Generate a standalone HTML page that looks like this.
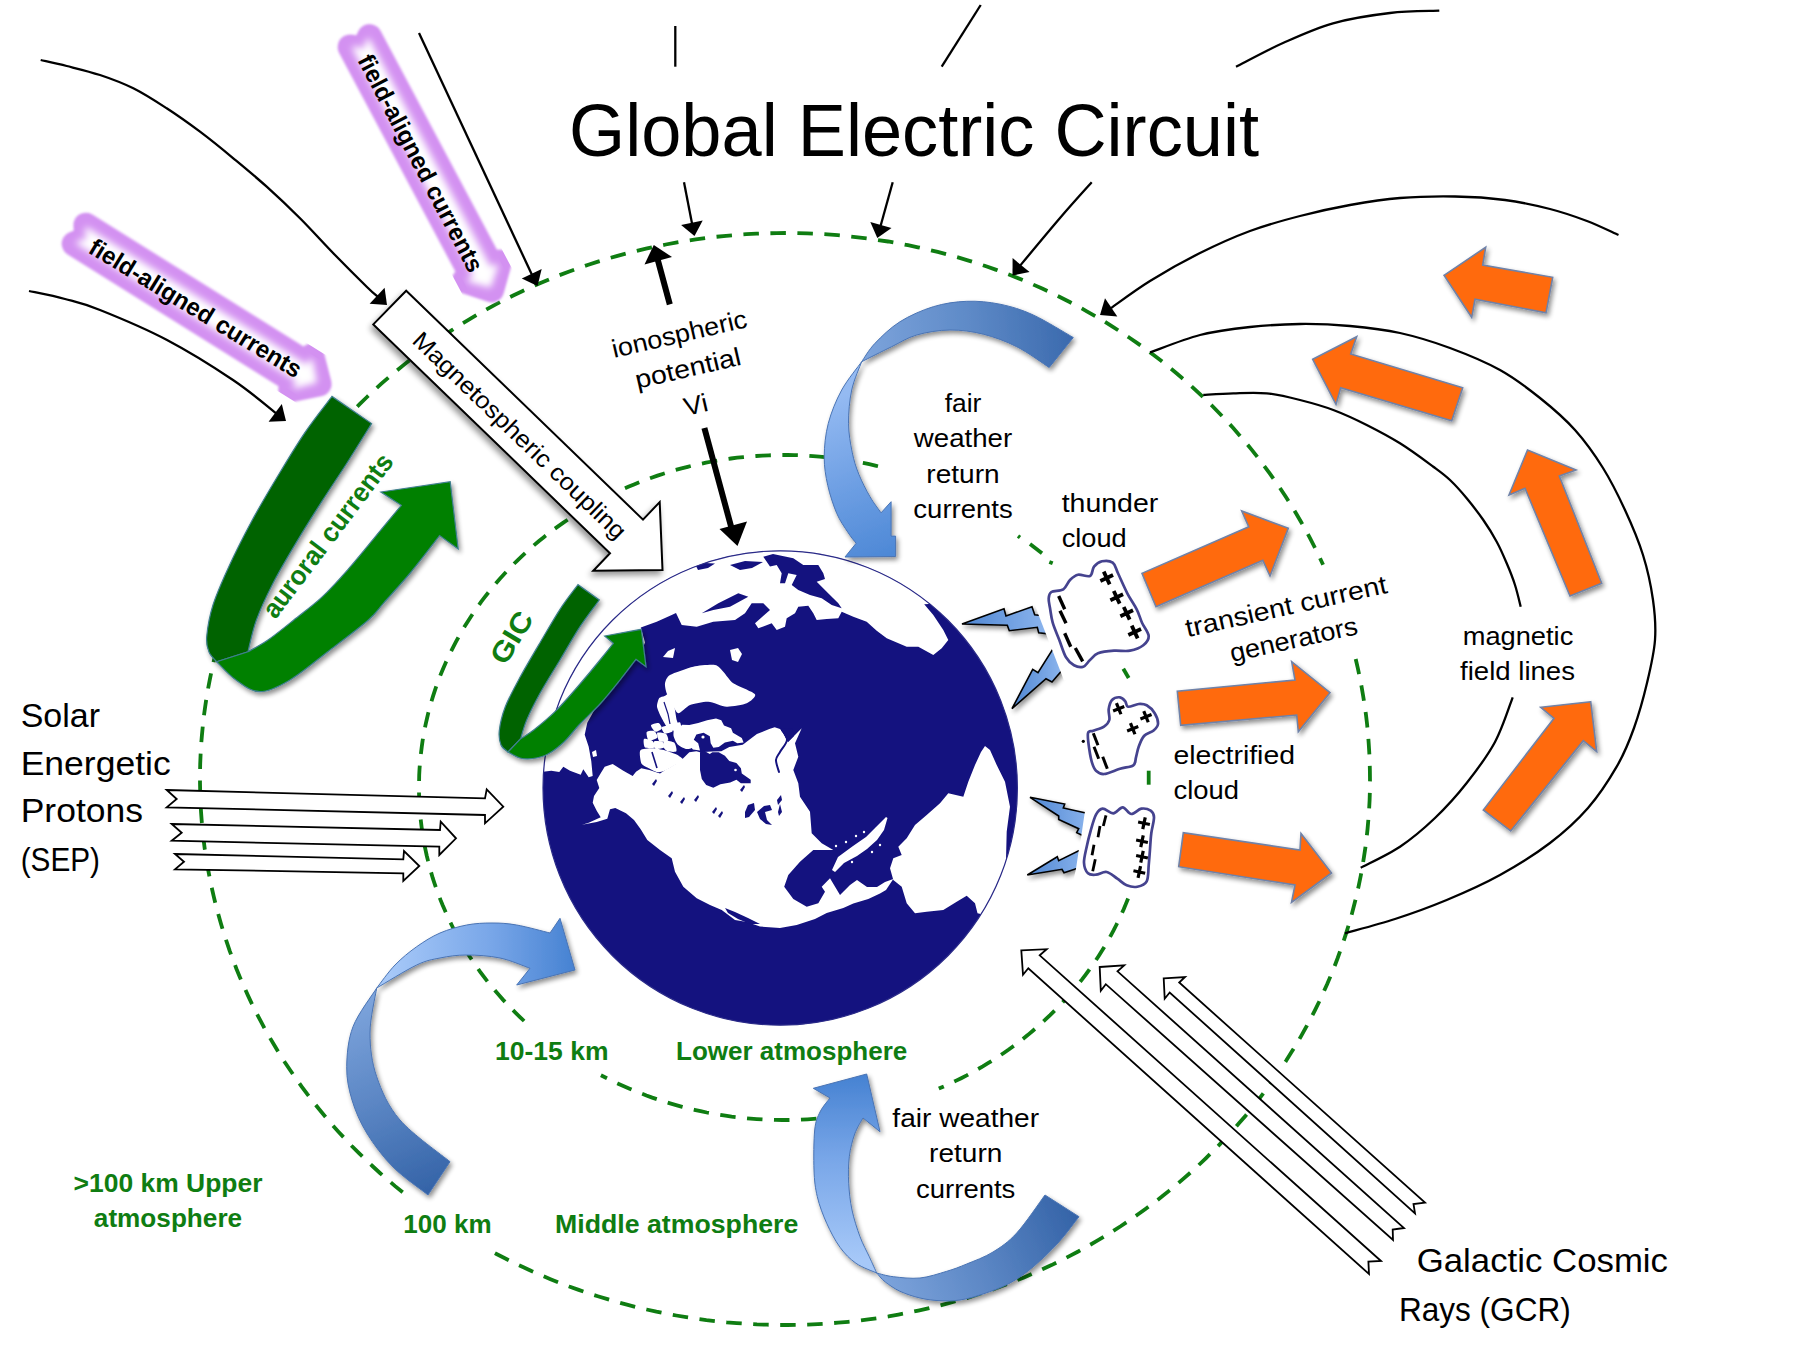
<!DOCTYPE html>
<html><head><meta charset="utf-8"><title>Global Electric Circuit</title>
<style>
html,body{margin:0;padding:0;background:#fff;}
body{width:1800px;height:1350px;overflow:hidden;}
svg{display:block;}
text{font-family:"Liberation Sans",sans-serif;}
.b{font-weight:bold;}
.g{fill:#0f7d12;font-weight:bold;}
</style></head><body>
<svg width="1800" height="1350" viewBox="0 0 1800 1350">
<defs>
<filter id="sh" x="-20%" y="-20%" width="150%" height="150%"><feGaussianBlur in="SourceAlpha" stdDeviation="2.5"/><feOffset dx="1.5" dy="3"/><feComponentTransfer><feFuncA type="linear" slope="0.45"/></feComponentTransfer><feMerge><feMergeNode/><feMergeNode in="SourceGraphic"/></feMerge></filter>
<filter id="sh2" x="-20%" y="-20%" width="150%" height="150%"><feGaussianBlur in="SourceAlpha" stdDeviation="3.2"/><feOffset dx="-2" dy="3.5"/><feComponentTransfer><feFuncA type="linear" slope="0.42"/></feComponentTransfer><feMerge><feMergeNode/><feMergeNode in="SourceGraphic"/></feMerge></filter>
<filter id="bl2" x="-20%" y="-20%" width="140%" height="140%"><feGaussianBlur stdDeviation="1.3"/></filter>
<filter id="bl4" x="-20%" y="-20%" width="140%" height="140%"><feGaussianBlur stdDeviation="3.6"/></filter>
<linearGradient id="gTopB" gradientUnits="userSpaceOnUse" x1="862" y1="360" x2="1075" y2="340"><stop offset="0" stop-color="#7da4dc"/><stop offset="0.5" stop-color="#5f8bc8"/><stop offset="1" stop-color="#3a69ad"/></linearGradient>
<linearGradient id="gTopF" gradientUnits="userSpaceOnUse" x1="830" y1="400" x2="890" y2="556"><stop offset="0" stop-color="#94baf2"/><stop offset="0.5" stop-color="#6fa0e4"/><stop offset="1" stop-color="#4d88d6"/></linearGradient>
<linearGradient id="gBLB" gradientUnits="userSpaceOnUse" x1="360" y1="1000" x2="440" y2="1185"><stop offset="0" stop-color="#7da4dc"/><stop offset="0.5" stop-color="#5b86c4"/><stop offset="1" stop-color="#3564a8"/></linearGradient>
<linearGradient id="gBLF" gradientUnits="userSpaceOnUse" x1="390" y1="960" x2="575" y2="960"><stop offset="0" stop-color="#a6c8f8"/><stop offset="0.55" stop-color="#78a6e8"/><stop offset="1" stop-color="#4682d2"/></linearGradient>
<linearGradient id="gBotB" gradientUnits="userSpaceOnUse" x1="880" y1="1285" x2="1070" y2="1205"><stop offset="0" stop-color="#7da4dc"/><stop offset="0.5" stop-color="#5b86c4"/><stop offset="1" stop-color="#3564a8"/></linearGradient>
<linearGradient id="gBotF" gradientUnits="userSpaceOnUse" x1="850" y1="1260" x2="850" y2="1075"><stop offset="0" stop-color="#a6c8f8"/><stop offset="0.55" stop-color="#78a6e8"/><stop offset="1" stop-color="#4682d2"/></linearGradient>
<linearGradient id="gBolt" x1="0" y1="0" x2="1" y2="0"><stop offset="0" stop-color="#4f86d2"/><stop offset="1" stop-color="#8db6ee"/></linearGradient>
<clipPath id="gc"><circle cx="780.2" cy="788" r="237.2"/></clipPath>
</defs>
<rect x="0" y="0" width="1800" height="1350" fill="#ffffff"/>
<path d="M1355.7 659 L1357.8 668.2 L1359.8 677.5 L1361.6 686.9 L1363.2 696.2 L1364.7 705.6 L1366 715 L1367.1 724.4 L1368 733.9 L1368.7 743.3 L1369.3 752.8 L1369.7 762.3 L1369.9 771.7 L1370 781.2 L1369.9 790.7 L1369.6 800.2 L1369.1 809.6 L1368.4 819.1 L1367.6 828.5 L1366.6 838 L1365.4 847.4 L1364 856.8 L1362.5 866.2 L1360.8 875.5 L1358.9 884.8 L1356.9 894.1 L1354.6 903.3 L1352.2 912.6 L1349.7 921.7 L1346.9 930.9 L1344 939.9 L1340.9 949 L1337.7 958 L1334.3 966.9 L1330.7 975.8 L1327 984.6 L1323 993.3 L1319 1002 L1314.8 1010.6 L1310.4 1019.2 L1305.8 1027.7 L1301.1 1036.1 L1296.3 1044.4 L1291.2 1052.6 L1286.1 1060.8 L1280.8 1068.9 L1275.3 1076.8 L1269.7 1084.7 L1263.9 1092.6 L1258 1100.3 L1252 1107.9 L1245.8 1115.4 L1239.4 1122.8 L1233 1130.1 L1226.4 1137.3 L1219.7 1144.4 L1212.8 1151.4 L1205.8 1158.3 L1198.7 1165.1 L1191.4 1171.7 L1184.1 1178.2 L1176.6 1184.6 L1169 1190.9 L1161.3 1197.1 L1153.4 1203.1 L1145.5 1209 L1137.4 1214.8 L1129.3 1220.4 L1121 1226 L1112.6 1231.3 L1104.2 1236.6 L1095.6 1241.7 L1087 1246.6 L1078.2 1251.5 L1069.4 1256.1 L1060.5 1260.7 L1051.5 1265.1 L1042.4 1269.3 L1033.2 1273.4 L1024 1277.4 L1014.7 1281.2 L1005.3 1284.8 L995.9 1288.3 L986.4 1291.6 L976.8 1294.8 L967.2 1297.9 L957.5 1300.7 L947.8 1303.4 L938 1306 L928.2 1308.4 L918.3 1310.6 L908.4 1312.7 L898.4 1314.6 L888.5 1316.4 L878.4 1318 L868.4 1319.4 L858.3 1320.7 L848.2 1321.8 L838.1 1322.7 L828 1323.5 L817.9 1324.1 L807.7 1324.6 L797.6 1324.9 L787.4 1325 L777.3 1325 L767.1 1324.7 L757 1324.4 L746.8 1323.8 L736.7 1323.1 L726.6 1322.3 L716.5 1321.2 L706.4 1320.1 L696.4 1318.7 L686.3 1317.2 L676.3 1315.5 L666.4 1313.7 L656.4 1311.7 L646.6 1309.5 L636.7 1307.2 L626.9 1304.7 L617.2 1302 L607.5 1299.2 L597.8 1296.3 L588.2 1293.2 L578.7 1289.9 L569.2 1286.5 L559.8 1282.9 L550.5 1279.2 L541.2 1275.3 L532 1271.3 L522.9 1267.1 L513.8 1262.8 L504.9 1258.3 L496 1253.7 L487.2 1249" fill="none" stroke="#0f7d12" stroke-width="3.8" stroke-dasharray="15.5 11.5" stroke-dashoffset="0"/>
<path d="M402.7 1192.3 L395.1 1186.1 L387.6 1179.7 L380.2 1173.2 L372.9 1166.5 L365.8 1159.8 L358.7 1152.9 L351.8 1146 L345.1 1138.9 L338.4 1131.7 L331.9 1124.4 L325.6 1117 L319.4 1109.5 L313.3 1101.9 L307.3 1094.2 L301.5 1086.4 L295.9 1078.5 L290.4 1070.5 L285 1062.5 L279.8 1054.3 L274.8 1046.1 L269.9 1037.8 L265.1 1029.4 L260.6 1020.9 L256.1 1012.4 L251.9 1003.8 L247.8 995.1 L243.8 986.3 L240 977.5 L236.4 968.7 L233 959.7 L229.7 950.8 L226.6 941.7 L223.6 932.6 L220.9 923.5 L218.3 914.3 L215.8 905.1 L213.6 895.9 L211.5 886.6 L209.6 877.3 L207.8 867.9 L206.2 858.6 L204.8 849.2 L203.6 839.7 L202.6 830.3 L201.7 820.8 L201 811.4 L200.5 801.9 L200.2 792.4 L200 782.9 L200 773.4 L200.2 764 L200.6 754.5 L201.1 745 L201.9 735.5 L202.8 726.1 L203.8 716.7 L205.1 707.2 L206.5 697.8 L208.1 688.5 L209.9 679.1 L211.8 669.8 L213.9 660.5 L216.2 651.3 L218.7 642.1 L221.3 632.9 L224.1 623.8 L227.1 614.7 L230.2 605.7 L233.6 596.7 L237 587.8 L240.7 579 L244.5 570.2 L248.4 561.4 L252.6 552.8 L256.9 544.2 L261.3 535.6 L265.9 527.2 L270.7 518.8 L275.6 510.5 L280.7 502.3 L285.9 494.1 L291.3 486.1 L296.8 478.1 L302.5 470.3 L308.3 462.5 L314.3 454.8 L320.4 447.2 L326.6 439.7 L333 432.3 L339.6 425.1 L346.2 417.9 L353 410.8 L359.9 403.9 L367 397 L374.1 390.3 L381.4 383.7 L388.9 377.2 L396.4 370.9 L404.1 364.6 L411.8 358.5 L419.7 352.5 L427.7 346.7 L435.8 340.9 L444 335.3 L452.3 329.9 L460.7 324.5 L469.3 319.4 L477.9 314.3 L486.6 309.4 L495.3 304.6 L504.2 300 L513.2 295.5 L522.2 291.2 L531.3 287 L540.5 283 L549.8 279.1 L559.2 275.3 L568.6 271.7 L578.1 268.3 L587.6 265 L597.2 261.9 L606.8 258.9 L616.6 256.1 L626.3 253.5 L636.1 251 L646 248.6 L655.9 246.5 L665.8 244.5 L675.8 242.6 L685.8 240.9 L695.8 239.4 L705.9 238 L716 236.8 L726.1 235.8 L736.2 234.9 L746.3 234.2 L756.5 233.6 L766.6 233.3 L776.8 233.1 L787 233 L797.1 233.1 L807.3 233.4 L817.4 233.8 L827.6 234.4 L837.7 235.2 L847.8 236.2 L857.9 237.3 L868 238.5 L878 240 L888.1 241.5 L898.1 243.3 L908 245.2 L917.9 247.3 L927.8 249.5 L937.7 251.9 L947.4 254.5 L957.2 257.2 L966.9 260.1 L976.5 263.1 L986.1 266.3 L995.6 269.6 L1005.1 273.1 L1014.4 276.7 L1023.8 280.5 L1033 284.5 L1042.2 288.6 L1051.3 292.8 L1060.3 297.2 L1069.2 301.8 L1078 306.4 L1086.8 311.3 L1095.5 316.2 L1104 321.3 L1112.5 326.6 L1120.9 332 L1129.1 337.5 L1137.3 343.1 L1145.4 348.9 L1153.3 354.8 L1161.2 360.8 L1168.9 367 L1176.5 373.3 L1184 379.7 L1191.4 386.2 L1198.6 392.9 L1205.8 399.7 L1212.8 406.5 L1219.6 413.5 L1226.4 420.6 L1233 427.8 L1239.4 435.2 L1245.8 442.6 L1252 450.1 L1258 457.7 L1263.9 465.5 L1269.7 473.3 L1275.3 481.2 L1280.8 489.2 L1286.1 497.3 L1291.3 505.4 L1296.3 513.7 L1301.1 522 L1305.9 530.4 L1310.4 538.9 L1314.8 547.5 L1319 556.1 L1323.1 564.8" fill="none" stroke="#0f7d12" stroke-width="3.8" stroke-dasharray="15.5 11.5" stroke-dashoffset="0"/>
<path d="M1128.1 898.5 L1125.9 903.9 L1123.7 909.2 L1121.3 914.5 L1118.9 919.8 L1116.3 925 L1113.7 930.2 L1110.9 935.4 L1108.1 940.5 L1105.1 945.6 L1102.1 950.6 L1099 955.5 L1095.7 960.5 L1092.4 965.3 L1089 970.1 L1085.5 974.9 L1081.9 979.6 L1078.2 984.2 L1074.5 988.8 L1070.6 993.4 L1066.7 997.8 L1062.7 1002.2 L1058.6 1006.6 L1054.4 1010.8 L1050.1 1015.1 L1045.8 1019.2 L1041.4 1023.3 L1036.9 1027.3 L1032.3 1031.2 L1027.7 1035.1 L1022.9 1038.9 L1018.2 1042.6 L1013.3 1046.2 L1008.4 1049.8 L1003.4 1053.2 L998.3 1056.6 L993.2 1060 L988 1063.2 L982.8 1066.4 L977.5 1069.4 L972.1 1072.4 L966.7 1075.4 L961.2 1078.2 L955.7 1080.9 L950.1 1083.6 L944.5 1086.1 L938.8 1088.6" fill="none" stroke="#0f7d12" stroke-width="3.8" stroke-dasharray="15.5 11.5" stroke-dashoffset="0"/>
<path d="M869.8 1110.7 L863.7 1112 L857.5 1113.2 L851.3 1114.3 L845 1115.3 L838.8 1116.2 L832.5 1117 L826.3 1117.8 L820 1118.4 L813.7 1118.9 L807.4 1119.3 L801 1119.6 L794.7 1119.9 L788.4 1120 L782.1 1120 L775.7 1119.9 L769.4 1119.7 L763.1 1119.5 L756.8 1119.1 L750.5 1118.6 L744.2 1118 L737.9 1117.3 L731.6 1116.6 L725.4 1115.7 L719.1 1114.7 L712.9 1113.6 L706.7 1112.5 L700.6 1111.2 L694.4 1109.8 L688.3 1108.4 L682.2 1106.8 L676.1 1105.1 L670.1 1103.4 L664.1 1101.6 L658.2 1099.6 L652.2 1097.6 L646.4 1095.5 L640.5 1093.2 L634.7 1090.9 L629 1088.5 L623.3 1086 L617.6 1083.4 L612 1080.8 L606.4 1078 L600.9 1075.2" fill="none" stroke="#0f7d12" stroke-width="3.8" stroke-dasharray="15.5 11.5" stroke-dashoffset="0"/>
<path d="M524.1 1021 L519.7 1016.8 L515.4 1012.6 L511.1 1008.3 L507 1004 L502.9 999.6 L498.9 995.1 L495 990.6 L491.2 986 L487.4 981.3 L483.8 976.6 L480.2 971.8 L476.8 967 L473.4 962.1 L470.1 957.2 L466.9 952.2 L463.8 947.2 L460.8 942.1 L457.9 936.9 L455.1 931.8 L452.4 926.5 L449.8 921.3 L447.4 916 L445 910.6 L442.7 905.3 L440.5 899.9 L438.4 894.4 L436.4 888.9 L434.5 883.4 L432.7 877.9 L431.1 872.3 L429.5 866.7 L428.1 861.1 L426.7 855.5 L425.5 849.8 L424.3 844.1 L423.3 838.5 L422.4 832.7 L421.6 827 L420.9 821.3 L420.3 815.5 L419.8 809.8 L419.5 804 L419.2 798.3 L419 792.5 L419 786.7 L419.1 781 L419.2 775.2 L419.5 769.4 L419.9 763.7 L420.4 757.9 L421.1 752.2 L421.8 746.5 L422.6 740.7 L423.6 735 L424.6 729.3 L425.8 723.7 L427.1 718 L428.4 712.4 L429.9 706.8 L431.5 701.2 L433.2 695.6 L435 690.1 L436.9 684.6 L438.9 679.1 L441 673.7 L443.3 668.3 L445.6 662.9 L448 657.6 L450.5 652.3 L453.2 647.1 L455.9 641.9 L458.7 636.7 L461.6 631.6 L464.6 626.5 L467.8 621.5 L471 616.5 L474.3 611.6 L477.7 606.7 L481.1 601.9 L484.7 597.2 L488.4 592.5 L492.2 587.8 L496 583.2 L499.9 578.7 L504 574.2 L508.1 569.9 L512.2 565.5 L516.5 561.3 L520.9 557.1 L525.3 552.9 L529.8 548.9 L534.4 544.9 L539 541 L543.8 537.2 L548.6 533.4 L553.4 529.7 L558.4 526.1 L563.4 522.6 L568.5 519.2 L573.6 515.8 L578.8 512.5 L584.1 509.3 L589.4 506.2 L594.8 503.2 L600.3 500.2 L605.8 497.3 L611.3 494.6 L616.9 491.9 L622.6 489.3 L628.3 486.8 L634 484.4 L639.8 482 L645.7 479.8 L651.5 477.7 L657.5 475.6 L663.4 473.7 L669.4 471.8 L675.4 470 L681.5 468.4 L687.6 466.8 L693.7 465.3 L699.9 464 L706 462.7 L712.2 461.5 L718.5 460.4 L724.7 459.4 L731 458.5 L737.2 457.7 L743.5 457.1 L749.8 456.5 L756.1 456 L762.4 455.6 L768.8 455.3 L775.1 455.1 L781.4 455 L787.8 455 L794.1 455.1 L800.4 455.3 L806.7 455.6 L813.1 456.1 L819.4 456.6 L825.7 457.2 L831.9 457.9 L838.2 458.7 L844.5 459.6 L850.7 460.6 L856.9 461.7 L863.1 462.9 L869.3 464.2 L875.4 465.6 L881.5 467.1" fill="none" stroke="#0f7d12" stroke-width="3.8" stroke-dasharray="15.5 11.5" stroke-dashoffset="0"/>
<path d="M1030 544 L1042 553.3" stroke="#0f7d12" stroke-width="3.8" fill="none"/>
<path d="M1049.3 562 L1052.7 563.3" stroke="#0f7d12" stroke-width="3.8" fill="none"/>
<path d="M1123.3 668.7 L1128.7 678" stroke="#0f7d12" stroke-width="3.8" fill="none"/>
<path d="M1148.7 770.7 L1148.7 784.7" stroke="#0f7d12" stroke-width="3.8" fill="none"/>
<path d="M1018 536 L1020 537.5" stroke="#0f7d12" stroke-width="3.8" fill="none"/>
<path d="M40.7 60 C45 61 56.8 63.5 66.7 66 C76.6 68.5 88.9 71.3 100 75 C111.1 78.7 122.2 82.8 133.3 88.3 C144.4 93.8 155.6 101.1 166.7 108.3 C177.8 115.5 188.9 123.4 200 131.7 C211.1 140 222.2 149.1 233.3 158.3 C244.4 167.5 255.6 176.7 266.7 186.7 C277.8 196.7 288.9 207.2 300 218.3 C311.1 229.4 322.2 241.9 333.3 253.3 C344.4 264.7 359.2 279.4 366.7 286.7 C374.1 294 376.1 295.3 378 297" fill="none" stroke="#000" stroke-width="2.3"/>
<path d="M387 305 L369.6 303.8 L384.6 287.7 Z" fill="#000"/>
<path d="M29 291 C35 292.3 53.2 295.8 65 299 C76.8 302.2 83 303.2 100 310 C117 316.8 144.8 328.3 167 340 C189.2 351.7 214.7 367.7 233 380 C251.3 392.3 269.7 408.3 277 414" fill="none" stroke="#000" stroke-width="2.3"/>
<path d="M286 421 L268.6 421.7 L281.8 404.1 Z" fill="#000"/>
<path d="M419 33 L533 277" fill="none" stroke="#000" stroke-width="2.3"/>
<path d="M537.5 286 L521.8 278.4 L541.7 269.1 Z" fill="#000"/>
<path d="M675.3 26 L675.3 66.7" fill="none" stroke="#000" stroke-width="2.3"/>
<path d="M980.7 5 L941.7 66.7" fill="none" stroke="#000" stroke-width="2.3"/>
<path d="M684 182.3 L692.5 226" fill="none" stroke="#000" stroke-width="2.3"/>
<path d="M694.5 236 L681.1 224.9 L702.7 220.6 Z" fill="#000"/>
<path d="M892.7 182.3 L880 228" fill="none" stroke="#000" stroke-width="2.3"/>
<path d="M877.3 238 L870.3 222.1 L891.5 227.9 Z" fill="#000"/>
<path d="M1091.7 182.3 C1086.4 188.2 1072.1 203.9 1060 218 C1047.9 232.1 1025.8 258.8 1019 267" fill="none" stroke="#000" stroke-width="2.3"/>
<path d="M1012.5 275.5 L1012.6 258.1 L1029.6 272.1 Z" fill="#000"/>
<path d="M1236 66.7 C1243.8 62.8 1266.8 50.2 1283 43 C1299.2 35.8 1315.2 28.3 1333 23.3 C1350.8 18.3 1372.3 15.1 1390 13 C1407.7 10.9 1431.1 11.1 1439.3 10.7" fill="none" stroke="#000" stroke-width="2.3"/>
<path d="M1618.5 235 C1613.2 232.7 1598.4 225.3 1587 221 C1575.6 216.7 1563.7 212.5 1550 209 C1536.3 205.5 1520.8 202.1 1505 200 C1489.2 197.9 1472.5 196.8 1455 196.5 C1437.5 196.2 1417.5 196.6 1400 198 C1382.5 199.4 1366.7 202 1350 205 C1333.3 208 1316.7 211.7 1300 216 C1283.3 220.3 1266.7 224.8 1250 231 C1233.3 237.2 1216.7 244.7 1200 253 C1183.3 261.3 1164.8 271.8 1150 281 C1135.2 290.2 1117.5 303.5 1111 308" fill="none" stroke="#000" stroke-width="2.3"/>
<path d="M1100 315 L1105 298.3 L1117.3 316.5 Z" fill="#000"/>
<path d="M1150 352.5 C1158.3 349.6 1183.3 339.2 1200 335 C1216.7 330.8 1233.3 328.8 1250 327 C1266.7 325.2 1283.3 324.2 1300 324 C1316.7 323.8 1333.3 324.5 1350 326 C1366.7 327.5 1383.3 329.3 1400 333 C1416.7 336.7 1433.3 341.8 1450 348 C1466.7 354.2 1485 361.7 1500 370 C1515 378.3 1527.5 388 1540 398 C1552.5 408 1564.5 418.3 1575 430 C1585.5 441.7 1594.7 454.7 1603 468 C1611.3 481.3 1618.3 495.5 1625 510 C1631.7 524.5 1638.3 540 1643 555 C1647.7 570 1651 585.8 1653 600 C1655 614.2 1656 626.2 1655 640 C1654 653.8 1650.5 668.3 1647 683 C1643.5 697.7 1639 714 1634 728 C1629 742 1624.4 753.4 1616.7 766.7 C1609 780 1599.1 795.3 1588 808 C1576.9 820.7 1564.7 831.8 1550 843 C1535.3 854.2 1517.2 865.5 1500 875 C1482.8 884.5 1464.2 892.7 1446.7 900 C1429.2 907.3 1412 913.5 1395 919 C1378 924.5 1353.3 930.9 1345 933.3" fill="none" stroke="#000" stroke-width="2.3"/>
<path d="M1203.3 395 C1208.3 394.7 1222.7 393.6 1233.3 393.3 C1243.9 393 1255.6 392.2 1266.7 393.3 C1277.8 394.4 1288.9 397.2 1300 400 C1311.1 402.8 1322.2 405.8 1333.3 410 C1344.4 414.2 1355.6 419.4 1366.7 425 C1377.8 430.6 1388.9 436.4 1400 443.3 C1411.1 450.2 1425 460.6 1433.3 466.7 C1441.6 472.8 1444.4 474.7 1450 480 C1455.6 485.3 1461.2 491.6 1466.7 498.3 C1472.2 505 1478.3 512.8 1483.3 520 C1488.3 527.2 1492.8 534.5 1496.7 541.7 C1500.6 548.9 1503.7 556.1 1506.7 563.3 C1509.8 570.5 1512.7 577.8 1515 585 C1517.3 592.2 1519.8 603.1 1520.7 606.7" fill="none" stroke="#000" stroke-width="2.3"/>
<path d="M1512.7 697.3 C1509.8 704.8 1502.7 727.7 1495 742 C1487.3 756.3 1476.7 770.3 1466.7 783 C1456.7 795.7 1446.1 807.4 1435 818 C1423.9 828.6 1412.4 838.4 1400 846.7 C1387.6 855 1367.2 864.2 1360.7 867.7" fill="none" stroke="#000" stroke-width="2.3"/>
<path d="M669.8 304.4 L657 257" stroke="#000" stroke-width="6" fill="none"/>
<path d="M653.8 244.9 L644.5 264.5 L672 257 Z" fill="#000"/>
<path d="M704.4 428 L732 530" stroke="#000" stroke-width="6" fill="none"/>
<path d="M737.5 546 L719.5 529 L747 521.5 Z" fill="#000"/>
<g id="globe">
<circle cx="780.2" cy="788" r="237.2" fill="#14127f"/>
<g clip-path="url(#gc)" fill="#fff" stroke="none">
<path d="M520 700 L520 520 L780 500 L1040 520 L1000 600 L924.2 604.2 L933.3 615 L943.3 630 L948.3 640 L941.7 648.3 L933.3 655 L918.3 646.7 L906.7 646.7 L886.7 638.3 L876.7 630.8 L866.7 621.7 L853.3 616.7 L841.7 611.7 L838.3 618.3 L826.7 619 L816.7 620 L813.3 613.3 L808.3 605.8 L798.3 606.7 L795 613.3 L786.7 618.3 L785 626.7 L776.7 630 L771.7 623.3 L758.3 628.3 L755 623.3 L770 610 L763.3 603.3 L751.7 603.3 L745 613.3 L735 620 L713.3 621.7 L696.7 626.7 L681.7 625 L676 613 L671.7 615 L656.7 621.7 L640.8 627.5 L645 642.5 L640 655 L623 673 L605 698 L598 704 L594 710.7 L587.3 722.7 L584.7 734.7 L588.7 746.7 L591.3 761.3 L592.7 776 L588.7 777.3 L583.3 769.3 L580.7 774.7 L570 770.7 L563.3 766.7 L559.3 772 L551.3 770.7 L540 772 Z" fill="#fff"/>
<path d="M696 566 L705 563 L715 563.5 L708 568 L698 570 Z" fill="#14127f"/>
<path d="M730 565 L745 561 L763 562 L752 568 L740 570 Z" fill="#14127f"/>
<path d="M763.3 556.7 L773 554 L793.3 558.3 L803.3 565 L818.3 565 L823.3 573.3 L825 579 L816.7 581.7 L826.7 591.7 L838.3 603.3 L841.7 608.3 L831.7 605 L821.7 598.3 L810 595 L798.3 590 L791.7 585 L796.7 575 L788.3 573.3 L785 583.3 L780 583.3 L781.7 573.3 L776.7 565 L770 566.5 Z" fill="#14127f"/>
<path d="M701.7 613.3 L718.3 603.3 L738.3 593.3 L748.3 596.7 L730 606.7 L713.3 610 Z" fill="#14127f"/>
<path d="M663 657 L668 651 L675 648 L673 658 Z" fill="#fff"/>
<path d="M730 650 L738 648 L742 654 L738 662 L732 660 Z" fill="#fff"/>
<path d="M592 752 L596 750 L597 756 L593 757 Z" fill="#fff"/>
<path d="M665 683.3 C665.4 681.2 666.7 676.9 670 675 C673.3 673.1 688 667.9 693.3 666.7 C698.5 665.5 711.5 664.4 715 665 C718.5 665.6 721.2 669.6 723.3 671.7 C725.4 673.8 729.6 680.7 733.3 683.3 C737 685.9 753.4 691.9 755 694.2 C756.6 696.5 750 701.8 746.7 703.3 C743.4 704.8 731.2 706.9 726.7 706.7 C722.2 706.5 712.6 701.9 708.3 701.7 C704 701.5 693.5 703.6 690 705 C686.5 706.4 680.4 713.5 678.3 713.3 C676.2 713.1 673.1 705.6 671.7 703.3 C670.3 701 667.5 695.6 666.7 693.3 C665.9 691 664.6 685.4 665 683.3 Z" fill="#fff"/>
<path d="M664.6 695.9 C665.9 695.4 669 692.5 670.1 693.7 C671.2 695 673.6 703.8 674.4 706.8 C675.1 709.8 676.1 717.4 676.6 719.7 C677.1 722 679 725 678.8 726.3 C678.5 727.6 675.6 730.3 674.4 730.6 C673.1 730.8 669.4 730 667.9 728.5 C666.4 727 662.7 720.2 661.4 717.6 C660.2 715.1 657.3 709.1 657 706.8 C656.8 704.5 658.4 699.4 659.2 698.1 C660.1 696.9 663.3 696.4 664.6 695.9 Z" fill="#fff"/>
<path d="M651 725.3 C651.3 724.3 657.3 722.7 658.5 723.1 C659.8 723.4 662.2 727.4 661.8 728.4 C661.5 729.4 656.6 732.1 655.4 731.7 C654.1 731.4 650.6 726.3 651 725.3 Z" fill="#fff"/>
<path d="M661.7 727.4 C662.2 726.6 668 725.5 669.3 726 C670.6 726.4 673.1 730.3 672.6 731.2 C672.1 732.1 666.2 733.8 664.9 733.4 C663.6 733 661.2 728.3 661.7 727.4 Z" fill="#fff"/>
<path d="M646.7 732.1 C647.3 731 653 730.4 654.2 731 C655.5 731.6 658.1 736.3 657.4 737.5 C656.8 738.6 650 741.4 648.8 740.8 C647.5 740.2 646 733.3 646.7 732.1 Z" fill="#fff"/>
<path d="M657.2 732.8 C658 731.9 664.6 732.9 665.9 733.8 C667.1 734.7 668.8 739.5 668.1 740.4 C667.3 741.3 660.7 742.4 659.4 741.5 C658.2 740.6 656.5 733.7 657.2 732.8 Z" fill="#fff"/>
<path d="M644 738.9 C644.9 738.2 651.4 740.1 652.6 741.1 C653.9 742.1 655.7 746.8 654.8 747.6 C653.9 748.3 646.3 748.6 645.1 747.6 C643.8 746.6 643.1 739.7 644 738.9 Z" fill="#fff"/>
<path d="M654.1 741.4 C655 740.6 661.5 741.3 662.7 742 C663.8 742.7 664.7 746.7 663.9 747.5 C663 748.3 656.5 749.4 655.3 748.7 C654.2 748 653.3 742.2 654.1 741.4 Z" fill="#fff"/>
<path d="M664.4 740.5 C665.7 740 672.8 741.3 674.2 742.6 C675.6 743.8 677.1 750.2 676.4 751.3 C675.6 752.3 669.3 751.8 667.7 751.3 C666.2 750.8 663.7 748.2 663.3 747 C663 745.7 663.2 741 664.4 740.5 Z" fill="#fff"/>
<path d="M674.7 724.8 C675.5 723.2 679.2 721.5 680.1 722.4 C681 723.2 681.5 729.6 682.3 731.8 C683 733.9 685.4 738.7 686.7 740.4 C687.9 742.2 693.1 745.9 693.1 746.9 C693.1 747.9 688.4 749.3 686.7 749.1 C684.9 748.8 679.5 746.2 678 744.7 C676.5 743.2 674 738.3 673.6 736 C673.2 733.7 674 726.4 674.7 724.8 Z" fill="#fff"/>
<path d="M640.3 750.4 C641.6 748.6 649.3 748.2 652.2 748.2 C655.1 748.2 662.3 749.6 665.2 750.4 C668.1 751.2 674.9 753.5 677.1 754.8 C679.4 756.1 684.8 760.1 684.7 761.3 C684.6 762.4 678.2 763.6 676 764.6 C673.9 765.6 668.4 769.1 666.3 769.9 C664.1 770.8 659.8 772.4 657.6 772.1 C655.5 771.9 649.7 768.8 647.9 767.7 C646 766.7 642.3 765.5 641.4 763.5 C640.5 761.5 639 752.2 640.3 750.4 Z" fill="#fff"/>
<path d="M652 752 L657 768" stroke="#14127f" stroke-width="1.6" fill="none"/>
<path d="M664 702 L668 714 L670 724" stroke="#14127f" stroke-width="1.2" fill="none"/>
<path d="M678.7 728.2 L682.2 724.7 L689.3 725.1 L698.2 722.9 L707.1 720.2 L716 718.4 L721.3 720.2 L724 725.6 L731.1 728.2 L732.9 732.7 L741.8 738 L743.6 742.4 L737.3 743.3 L732.9 740.7 L724.9 742.4 L718.7 746.9 L713.3 747.8 L710.7 743.3 L709.8 736.2 L703.6 732.7 L696.4 734.4 L693.8 739.8 L698.2 743.3 L700 750.4 L692.9 749.6 L689.3 745.1 L682.2 743.3 L676.9 739.8 L676 732.7 Z" fill="#fff"/>
<circle cx="703" cy="737" r="1.6" fill="#fff"/>
<path d="M596.7 780 L600.7 773.3 L604.7 766.7 L612.7 764 L623.3 770.7 L632.7 776 L636 771.8 L641.3 768.2 L649.3 770 L660 773.6 L665.3 770 L673.3 765.6 L680.4 761.1 L684 757.6 L689.3 752.2 L696.4 751.3 L700 752.2 L712 751.5 L721.3 751.3 L729.3 746.9 L742.7 744.7 L756.9 734 L769.3 729.1 L774.7 727.3 L780 729.1 L783.3 733.3 L788 742 L792 738 L801.7 728.3 L795 743.3 L798.3 756.7 L793.3 770 L798.3 783.3 L800 796.7 L810 811.7 L811.7 833.3 L821.7 843.3 L833.3 850 L813.3 850 L800 861.7 L788.3 875 L784.2 886.7 L793.3 899 L806.7 906.7 L818.3 903.3 L825 891.7 L821.7 886.7 L830 878.3 L840 895 L850 885 L857 880 L867 887 L877 887 L885 882 L893.3 879 L886 890 L880 893.5 L868.3 899 L853.3 903.5 L843.3 908 L826.7 913 L815 919 L796.7 925 L780 928 L760 926.5 L747 922 L735 920 L721.7 910 L710 905 L696.7 898.3 L683.3 886.7 L675 871.7 L671.7 858.3 L660 850 L647.3 840 L640.7 829.3 L634 820 L626 813.3 L615.3 808 L610 809.3 L607.3 818.7 L596.7 822 L582 824.7 L588.7 822.7 L600.7 817.3 L596.7 810.7 L592.7 802.7 L594 796 L599.3 788 Z" fill="#fff"/>
<path d="M700 752.2 L703.6 750.4 L709.8 754 L712.4 752.2 L718.7 752.2 L724.9 755.8 L729.3 761.1 L736.4 762.9 L740.9 768.2 L741.8 773.6 L750.7 779.8 L750.7 783.3 L740.9 783.3 L736.4 779.8 L730.2 782.4 L720.4 784.2 L713.3 787.8 L706.2 785.1 L701.8 778.9 L700 770 L700 761.1 Z" fill="#14127f"/>
<circle cx="735.5" cy="770" r="1.3" fill="#fff"/>
<path d="M782 730 C782.8 731.7 787.3 736.3 787 740 C786.7 743.7 781.8 748.7 780 752 C778.2 755.3 776.2 756.7 776 760 C775.8 763.3 778.5 770 779 772" fill="none" stroke="#14127f" stroke-width="2" stroke-linecap="round"/>
<path d="M781 729 L788 742 L794 736 L792 728 Z" fill="#14127f"/>
<path d="M725 908 L735 912 L748 918 L760 924 L750 924 L738 919 L728 913 Z" fill="#14127f"/>
<path d="M745 812 L748 805 L754 803 L755 810 L749 817 L745 818 Z" fill="#14127f"/>
<path d="M757 812 L764 806 L770 805 L772 810 L765 812 L767 820 L772 825 L766 824 L760 819 Z" fill="#14127f"/>
<path d="M777 800 L781 795 L782 800 L778 805 Z" fill="#14127f"/>
<path d="M778 812 L780 804 L782 812 L779 816 Z" fill="#14127f"/>
<path d="M652 784 l4 -5 l1 2 l-3 5z" fill="#14127f"/>
<path d="M668 796 l4 -5 l1 2 l-3 5z" fill="#14127f"/>
<path d="M680 802 l4 -5 l1 2 l-3 5z" fill="#14127f"/>
<path d="M694 800 l4 -5 l1 2 l-3 5z" fill="#14127f"/>
<path d="M712 812 l4 -5 l1 2 l-3 5z" fill="#14127f"/>
<path d="M718 816 l4 -5 l1 2 l-3 5z" fill="#14127f"/>
<path d="M740 790 l4 -5 l1 2 l-3 5z" fill="#14127f"/>
<path d="M832 870 L838 857 L853 846 L866 837 L876 827 L886 817 L887.5 818 L884 830 L877 840 L867 849 L857 856 L844 863 L835 872 Z" fill="#fff"/>
<circle cx="836" cy="846" r="1.2" fill="#fff"/>
<circle cx="846" cy="842" r="1.2" fill="#fff"/>
<circle cx="856" cy="836" r="1.2" fill="#fff"/>
<circle cx="864" cy="832" r="1.2" fill="#fff"/>
<circle cx="872" cy="852" r="1.2" fill="#fff"/>
<circle cx="880" cy="845" r="1.2" fill="#fff"/>
<circle cx="852" cy="862" r="1.2" fill="#fff"/>
<path d="M975 765 L968.3 781.7 L963.3 796.7 L948.3 793.3 L940 803.3 L926.7 815 L915 825 L906.7 838.3 L898.3 846.7 L901.7 855 L893.3 858.3 L890 868.3 L893.3 880 L901.7 886.7 L906.7 903.3 L915 913.3 L926.7 911.7 L943.3 910 L956.7 901.7 L966.7 895.8 L975 903.3 L977.5 913.3 L985 915 L1020 890 L1006 860 L1006.7 831.7 L1010 806.7 L1005 781.7 L996.7 765 L990 750 L985 746 L981 752 Z" fill="#fff"/>
</g>
<circle cx="780.2" cy="788" r="237.2" fill="none" stroke="#2a2a88" stroke-width="1.2"/>
</g>
<g filter="url(#sh)">
<path d="M1073.3 337.5 C1066.6 333.8 1045.5 320.6 1033.3 315 C1021.1 309.4 1011.1 306.5 1000 304.2 C988.9 301.9 977.8 300.9 966.7 301.3 C955.6 301.7 944.4 303.3 933.3 306.7 C922.2 310.1 909.7 315.6 900 321.7 C890.3 327.8 881.4 336.6 875 343.3 C868.6 350 863.9 358.6 861.7 361.7 C866.7 359.2 882.5 351.1 891.7 346.7 C900.9 342.2 907 337.8 916.7 335 C926.4 332.2 938.9 330.1 950 330 C961.1 329.9 972.2 331.4 983.3 334.2 C994.4 337 1005.7 341.1 1016.7 346.7 C1027.7 352.2 1043.8 364 1049.2 367.5 Z" fill="url(#gTopB)" stroke="#4a74b4" stroke-width="1"/>
<path d="M861.7 361.7 C858.4 366.4 847.3 379.7 841.7 390 C836.1 400.3 831.2 412.2 828.3 423.3 C825.4 434.4 824.3 446.3 824.2 456.7 C824.1 467.1 825.7 476.2 827.8 485.6 C829.9 495 833.4 505.5 836.7 513.3 C840 521.1 844.6 527.2 847.8 532.2 C851 537.2 854.7 541.4 856.1 543.3 L845 557 L895.6 556.5 L895.6 536.1 L891.1 536.1 L891.1 501.7 L881.1 512.8 C879.2 510.1 873.7 503.1 870 496.7 C866.3 490.3 861.9 481.8 858.9 474.4 C855.9 467 853.9 460.7 852.2 452.2 C850.5 443.7 848.6 433.7 848.5 423.3 C848.4 412.9 849.5 400.3 851.7 390 C853.9 379.7 860 366.4 861.7 361.7 Z" fill="url(#gTopF)" stroke="#4a74b4" stroke-width="1"/>
</g>
<path d="M962 624 L1004 608.7 L1006 616 L1032 606.7 L1034.7 614.7 L1045 616 L1050 634 L1038.7 632.7 L1037.3 627.3 L1009.3 630.7 L1007.3 625.3 Z" fill="url(#gBolt)" stroke="#000" stroke-width="1.6" stroke-linejoin="miter" filter="url(#sh)"/>
<path d="M1012 708.7 L1032.7 669.3 L1038 672.7 L1052.7 649.3 L1062 660 L1064 668 L1052 682 L1046 678.7 Z" fill="url(#gBolt)" stroke="#000" stroke-width="1.6" stroke-linejoin="miter" filter="url(#sh)"/>
<path d="M1030 797.3 L1064.7 804 L1063.3 808 L1084.7 812.7 L1092 816 L1088 838 L1076.7 832.7 L1078.7 828.7 L1058.7 819.5 L1058.7 816 Z" fill="url(#gBolt)" stroke="#000" stroke-width="1.6" stroke-linejoin="miter" filter="url(#sh)"/>
<path d="M1027.3 875 L1057.3 856.7 L1058.7 860.7 L1078.7 850.7 L1088 850 L1086 870 L1076 868.7 L1064 872.7 L1062 869.3 Z" fill="url(#gBolt)" stroke="#000" stroke-width="1.6" stroke-linejoin="miter" filter="url(#sh)"/>
<path d="M1038.7 615.3 L1064 680.5 L1100 672 L1165 640 L1125 550 L1060 566 L1030 590 Z" fill="#fff"/>
<path d="M1084.7 812.7 L1091 800 L1165 800 L1160 895 L1070 895 L1076 868.7 L1078.7 850.7 L1081.3 836 Z" fill="#fff"/>
<path d="M1048.7 598.7 C1048.9 596 1048.9 593.6 1051.3 592 C1053.7 590.4 1060.2 591.3 1063.3 589.3 C1066.4 587.3 1067.5 582.4 1070 580 C1072.5 577.6 1074.7 575.4 1078 574.7 C1081.3 574 1087.3 577.3 1090 576 C1092.7 574.7 1092 569.2 1094 566.7 C1096 564.2 1098.9 562 1102 561.3 C1105.1 560.6 1110 560.7 1112.7 562.7 C1115.4 564.7 1115.6 568.2 1118 573.3 C1120.4 578.4 1124.2 587.3 1127.3 593.3 C1130.4 599.3 1134.2 604.4 1136.7 609.3 C1139.2 614.2 1140 618.2 1142 622.7 C1144 627.2 1148.5 632.2 1148.7 636 C1148.9 639.8 1146.4 642.8 1143.3 645.3 C1140.2 647.8 1134.9 649.8 1130 650.7 C1125.1 651.6 1119.3 650.3 1114 650.7 C1108.7 651.1 1102 651.8 1098 653.3 C1094 654.8 1092.5 657.8 1090 660 C1087.5 662.2 1086 665.8 1083.3 666.7 C1080.6 667.6 1076.9 666.9 1074 665.3 C1071.1 663.7 1068.5 661.5 1066 657.3 C1063.5 653.1 1061.5 645.8 1059.3 640 C1057.1 634.2 1054.2 628 1052.7 622.7 C1051.2 617.4 1050.7 612 1050 608 C1049.3 604 1048.5 601.4 1048.7 598.7 Z" fill="#fff" stroke="#45438f" stroke-width="2.7"/>
<path d="M1058.7 596 L1064.7 609.3" stroke="#000" stroke-width="3.4" fill="none"/>
<path d="M1060 610.7 L1066 623.3" stroke="#000" stroke-width="3.4" fill="none"/>
<path d="M1064.7 633.3 L1070.7 646.7" stroke="#000" stroke-width="3.4" fill="none"/>
<path d="M1075.3 648 L1082.7 661.3" stroke="#000" stroke-width="3.4" fill="none"/>
<g transform="translate(1106.7 578) rotate(-25)"><path d="M-7 0 L7 0 M0 -7 L0 7" stroke="#000" stroke-width="3.8" fill="none"/></g>
<g transform="translate(1116.7 597.3) rotate(-25)"><path d="M-7 0 L7 0 M0 -7 L0 7" stroke="#000" stroke-width="3.8" fill="none"/></g>
<g transform="translate(1126.7 613.3) rotate(-25)"><path d="M-7 0 L7 0 M0 -7 L0 7" stroke="#000" stroke-width="3.8" fill="none"/></g>
<g transform="translate(1134.7 632) rotate(-25)"><path d="M-7 0 L7 0 M0 -7 L0 7" stroke="#000" stroke-width="3.8" fill="none"/></g>
<path d="M1088 733.3 C1088.7 730.2 1090.6 731.8 1093.3 730.7 C1096 729.6 1101.3 728.5 1104 726.7 C1106.7 724.9 1108.5 722.9 1109.3 720 C1110.1 717.1 1108.2 712.6 1108.7 709.3 C1109.2 706 1110.1 702 1112 700 C1113.9 698 1117.8 697.1 1120 697.3 C1122.2 697.5 1124 699.7 1125.3 701.3 C1126.6 702.9 1125.8 706.2 1128 706.7 C1130.2 707.2 1135.6 704.2 1138.7 704 C1141.8 703.8 1144 703.8 1146.7 705.3 C1149.4 706.8 1152.8 710.2 1154.7 713.3 C1156.6 716.4 1158.2 721.1 1158 724 C1157.8 726.9 1155.6 728.7 1153.3 730.7 C1151 732.7 1146.4 733.3 1144 736 C1141.6 738.7 1140 743.2 1138.7 746.7 C1137.4 750.2 1136.9 754.2 1136 757.3 C1135.1 760.4 1136 763.4 1133.3 765.3 C1130.6 767.2 1124.9 767.2 1120 768.7 C1115.1 770.2 1108 773.7 1104 774 C1100 774.3 1098 772.6 1096 770.7 C1094 768.8 1093.1 766.3 1092 762.7 C1090.9 759.1 1090 754.2 1089.3 749.3 C1088.6 744.4 1087.3 736.4 1088 733.3 Z" fill="#fff" stroke="#45438f" stroke-width="2.7"/>
<path d="M1093.3 733.3 L1098 745.3" stroke="#000" stroke-width="3" fill="none"/>
<path d="M1094 746.7 L1098.7 758.7" stroke="#000" stroke-width="3" fill="none"/>
<path d="M1102.7 756.7 L1107.3 768.7" stroke="#000" stroke-width="3" fill="none"/>
<circle cx="1083.3" cy="741.3" r="1.6" fill="#000"/>
<g transform="translate(1118.7 708.7) rotate(-22)"><path d="M-6 0 L6 0 M0 -6 L0 6" stroke="#000" stroke-width="3.2" fill="none"/></g>
<g transform="translate(1146 716.7) rotate(-22)"><path d="M-6 0 L6 0 M0 -6 L0 6" stroke="#000" stroke-width="3.2" fill="none"/></g>
<g transform="translate(1132.7 728.7) rotate(-22)"><path d="M-6 0 L6 0 M0 -6 L0 6" stroke="#000" stroke-width="3.2" fill="none"/></g>
<path d="M1096 814.7 C1098 811 1099.8 808.9 1102.7 808.7 C1105.6 808.5 1110 813.5 1113.3 813.3 C1116.6 813.1 1119.7 807.2 1122.7 807.3 C1125.7 807.4 1128.2 813.8 1131.3 814 C1134.4 814.2 1138.1 809.2 1141.3 808.7 C1144.5 808.2 1148.6 809.3 1150.7 810.7 C1152.8 812.1 1153.9 813.5 1154 817.3 C1154.1 821.1 1152 828 1151.3 833.3 C1150.6 838.6 1150.4 844 1150 849.3 C1149.6 854.6 1149.2 860 1148.7 865.3 C1148.2 870.6 1148.6 877.7 1146.7 881.3 C1144.8 884.9 1140.6 886 1137.3 886.7 C1134 887.4 1130 886.6 1126.7 885.3 C1123.4 884 1120.6 880.9 1117.3 878.7 C1114 876.5 1110.2 872.7 1106.7 872 C1103.2 871.3 1099.1 874.5 1096 874.7 C1092.9 874.9 1090 875.3 1088 873.3 C1086 871.3 1084.2 867.1 1084 862.7 C1083.8 858.3 1085.6 852 1086.7 846.7 C1087.8 841.4 1089.2 836 1090.7 830.7 C1092.2 825.4 1094 818.4 1096 814.7 Z" fill="#fff" stroke="#45438f" stroke-width="2.7"/>
<path d="M1106 815.3 L1103.3 826" stroke="#000" stroke-width="2.8" fill="none"/>
<path d="M1100 826 L1098 837.3" stroke="#000" stroke-width="2.8" fill="none"/>
<path d="M1094 844.7 L1092 855.3" stroke="#000" stroke-width="2.8" fill="none"/>
<path d="M1095.3 859.3 L1092.7 871.3" stroke="#000" stroke-width="2.8" fill="none"/>
<g transform="translate(1144 823.3) rotate(12)"><path d="M-6 0 L6 0 M0 -6 L0 6" stroke="#000" stroke-width="3.2" fill="none"/></g>
<g transform="translate(1142 841.3) rotate(12)"><path d="M-6 0 L6 0 M0 -6 L0 6" stroke="#000" stroke-width="3.2" fill="none"/></g>
<g transform="translate(1142 856.7) rotate(12)"><path d="M-6 0 L6 0 M0 -6 L0 6" stroke="#000" stroke-width="3.2" fill="none"/></g>
<g transform="translate(1139.3 872) rotate(12)"><path d="M-6 0 L6 0 M0 -6 L0 6" stroke="#000" stroke-width="3.2" fill="none"/></g>
<path d="M1444 275.3 L1485.7 247.3 L1482.7 265 L1552.7 277.3 L1546 312.7 L1475 299.3 L1471.7 317.3 Z" fill="#ff6a0a" stroke="#6f82a8" stroke-width="1.6" stroke-linejoin="miter" filter="url(#sh)"/>
<path d="M1312.7 359.3 L1356.7 336.7 L1350.7 354 L1462.7 387.7 L1451.7 420.7 L1340.7 387.7 L1336 404.3 Z" fill="#ff6a0a" stroke="#6f82a8" stroke-width="1.6" stroke-linejoin="miter" filter="url(#sh)"/>
<path d="M1288.3 528.3 L1241.7 511 L1248.8 526.8 L1142 573.3 L1156 606.7 L1262.8 560.2 L1270 576 Z" fill="#ff6a0a" stroke="#6f82a8" stroke-width="1.6" stroke-linejoin="miter" filter="url(#sh)"/>
<path d="M1330 692.7 L1291.7 661.7 L1295 680 L1177.3 691.3 L1180.7 725.3 L1296.7 715 L1298.3 731.7 Z" fill="#ff6a0a" stroke="#6f82a8" stroke-width="1.6" stroke-linejoin="miter" filter="url(#sh)"/>
<path d="M1331.5 873 L1301 833.5 L1300 850 L1183.3 832.7 L1178.7 866.7 L1295 885 L1291.5 902.5 Z" fill="#ff6a0a" stroke="#6f82a8" stroke-width="1.6" stroke-linejoin="miter" filter="url(#sh)"/>
<path d="M1527.5 450 L1509 495 L1525 488.3 L1570 596 L1601.7 583.3 L1559.3 476 L1576 470 Z" fill="#ff6a0a" stroke="#6f82a8" stroke-width="1.6" stroke-linejoin="miter" filter="url(#sh)"/>
<path d="M1590.7 701.7 L1540.7 707.3 L1554 718.3 L1483.3 810 L1510.7 831 L1583.3 740.7 L1596.7 751.7 Z" fill="#ff6a0a" stroke="#6f82a8" stroke-width="1.6" stroke-linejoin="miter" filter="url(#sh)"/>
<g filter="url(#sh)">
<path d="M428 1195 C422.2 1190.3 403.2 1177.3 393 1167 C382.8 1156.7 373.5 1144.2 366.7 1133 C359.9 1121.8 355.3 1111 352 1100 C348.7 1089 346.5 1078.9 346.7 1066.7 C346.9 1054.5 348 1039.8 353 1026.7 C358 1013.6 372.8 994.5 376.7 988 C375.6 995.5 370 1018.2 370 1033 C370 1047.8 371.7 1062.2 376.7 1076.7 C381.7 1091.2 387.8 1105.8 400 1120 C412.2 1134.2 441.7 1154.8 450 1161.7 Z" fill="url(#gBLB)" stroke="#4a74b4" stroke-width="1"/>
<path d="M376.7 988 C379.8 984.2 388.3 971.9 395 965 C401.7 958.1 409.2 952 416.7 946.7 C424.2 941.4 431.7 936.6 440 933 C448.3 929.4 458 926.7 466.7 925 C475.4 923.3 483.7 923 492 923 C500.3 923 507 923.3 516.7 925 C526.4 926.7 544.5 931.7 550 933 L560 918.3 L575 970 L516.7 985 L530 968.3 C525 966.6 510.6 960.2 500 958 C489.4 955.8 476.7 955 466.7 955 C456.7 955 448.3 956.3 440 958 C431.7 959.7 427.2 960 416.7 965 C406.1 970 383.4 984.2 376.7 988 Z" fill="url(#gBLF)" stroke="#4a74b4" stroke-width="1"/>
</g>
<g filter="url(#sh)">
<path d="M876.7 1273 C878.1 1274.5 881.4 1279 885.3 1282 C889.2 1285 894.2 1288.6 900 1291.3 C905.8 1294 913.3 1296.4 920 1298 C926.7 1299.6 933.3 1300.4 940 1300.7 C946.7 1301 952.8 1301.1 960 1300 C967.2 1298.9 974.7 1296.8 983 1294 C991.3 1291.2 1001.7 1287.5 1010 1283 C1018.3 1278.5 1025 1273.7 1033 1267 C1041 1260.3 1050.3 1251.4 1058 1243 C1065.7 1234.6 1075.5 1221.1 1079 1216.7 L1045 1195 C1040.3 1201.3 1025.4 1223.5 1016.7 1233 C1008 1242.5 1001.3 1246.8 993 1252 C984.7 1257.2 974.4 1260.8 966.7 1264 C959 1267.2 954.5 1269 946.7 1271.3 C938.9 1273.6 928.9 1277.1 920 1278 C911.1 1278.9 900.5 1277.5 893.3 1276.7 C886.1 1275.9 879.5 1273.6 876.7 1273 Z" fill="url(#gBotB)" stroke="#4a74b4" stroke-width="1"/>
<path d="M876.7 1273 C873.2 1271.4 862.1 1267.6 856 1263.3 C849.9 1259 844.9 1254 840 1247.3 C835.1 1240.6 830.5 1231.7 826.7 1223.3 C822.9 1214.9 819.4 1205.6 817.3 1196.7 C815.2 1187.8 814.4 1181.1 814 1170 C813.6 1158.9 813.7 1139.7 814.7 1130 C815.7 1120.3 817.5 1117.3 820 1112 C822.5 1106.7 828.3 1100.3 830 1098 L813.3 1088.3 L866.7 1074 L880 1131.7 L863 1118 C861.6 1120.7 857 1127.5 854.7 1134 C852.4 1140.5 850.3 1148.5 849.3 1156.7 C848.3 1164.9 848.2 1174.4 848.7 1183.3 C849.2 1192.2 850.1 1201.1 852 1210 C853.9 1218.9 857.1 1228.9 860 1236.7 C862.9 1244.5 866.5 1250.7 869.3 1256.7 C872.1 1262.8 875.5 1270.3 876.7 1273 Z" fill="url(#gBotF)" stroke="#4a74b4" stroke-width="1"/>
</g>
<g filter="url(#sh)">
<path d="M332 396.4 C327.4 402.5 313.4 420 304.4 433.3 C295.4 446.6 286.7 461.2 277.8 476 C268.9 490.8 259.4 506.8 251.1 522.2 C242.8 537.6 234.3 554.6 228 568.4 C221.7 582.2 216.6 593.6 213 605 C209.4 616.4 207.4 628.9 206.7 636.7 C206 644.5 207.3 647.8 209 652 C210.7 656.2 215.4 660.1 216.7 661.7 L248 651.7 C249.4 646.4 252.3 631.2 256.4 620 C260.5 608.8 265.9 597.1 272.4 584.4 C278.9 571.7 287.3 557.5 295.6 543.6 C303.9 529.7 313.3 514.8 322.2 500.9 C331.1 487 340.7 472.9 348.9 460 C357.1 447.1 367.8 429.7 371.6 423.6 Z" fill="#016401" stroke="#3f7f8f" stroke-width="1.2"/>
<path d="M216.7 661.7 C219.9 664.8 228.8 675 236 680 C243.2 685 251 691.7 260 691.7 C269 691.7 278.3 687 290 680 C301.7 673 316.9 660 330 650 C343.1 640 359.3 628 368.4 620 C377.5 612 377.3 610.2 384.4 602.2 C391.5 594.2 401.9 583.1 411.1 572 C420.3 560.9 434.9 541.7 439.6 535.6 L458.2 548.9 L450.2 481.7 L380.9 492 L401.3 505.3 C397 510.5 384.3 525.9 375.6 536.4 C366.9 546.9 357.8 558.3 348.9 568.4 C340 578.5 331.4 588.3 322.2 596.9 C313 605.5 302.8 612.8 293.8 620 C284.8 627.2 275.6 634.7 268 640 C260.4 645.3 251.3 649.8 248 651.7 Z" fill="#038003" stroke="#3f7f8f" stroke-width="1.2"/>
</g>
<g filter="url(#sh)">
<path d="M578 584.7 C575 588.8 566.3 599.6 560 609.3 C553.7 619 546.7 631.4 540 642.7 C533.3 654 525.8 666.6 520 677.3 C514.2 688 508.8 697.8 505.3 706.7 C501.9 715.6 500 724.3 499.3 730.7 C498.6 737.1 499.6 741.5 501 745 C502.4 748.5 506.8 750.8 508 752 L520.7 738.7 C521.7 735.6 523.5 727.6 526.7 720 C529.9 712.4 534.5 703.3 540 693.3 C545.5 683.3 553.3 671.1 560 660 C566.7 648.9 573.5 636.7 580 626.7 C586.5 616.7 596.1 604.5 599.3 600 Z" fill="#016401" stroke="#3f7f8f" stroke-width="1.2"/>
<path d="M508 752 C510 753 515.8 756.9 520 758 C524.2 759.1 528.3 759.2 533 758.5 C537.7 757.8 542.8 756.8 548 754 C553.2 751.2 558.7 747 564 742 C569.3 737 574 730.3 580 724 C586 717.7 593.3 711.3 600 704 C606.7 696.7 614 687.5 620 680 C626 672.5 633.3 662.8 636 659.3 L646 666.7 L641.3 629.3 L604.7 636 L613.3 643.3 C611.1 646.1 605.5 653.2 600 660 C594.5 666.8 587.3 675.5 580 684 C572.7 692.5 563.5 703.2 556 710.7 C548.5 718.2 540.6 724.6 534.7 729.3 C528.8 734 523 737.1 520.7 738.7 Z" fill="#038003" stroke="#3f7f8f" stroke-width="1.2"/>
</g>
<path d="M406.2 290.7 L643 519.6 L659.7 502.1 L662.5 570 L593.3 570.8 L610 553.3 L373.3 324.4 Z" fill="#fff" stroke="#000" stroke-width="2" stroke-linejoin="miter" filter="url(#sh2)"/>
<g transform="translate(80 234.5) rotate(32)">
<path d="M0 -11 L261 -11 L261 -20 L282 0 L261 20 L261 11 L0 11 L8 0 Z" fill="#d391f1" stroke="#d391f1" stroke-width="25" stroke-linejoin="round" filter="url(#bl2)"/>
<path d="M3 -7.8 L263 -7.8 L263 -15 L277 0 L263 15 L263 7.8 L3 7.8 L11 0 Z" fill="#fff" stroke="#fff" stroke-width="4" stroke-linejoin="round" filter="url(#bl4)"/>
</g>
<g transform="translate(359.8 41.8) rotate(62)">
<path d="M0 -11 L260 -11 L260 -20 L281 0 L260 20 L260 11 L0 11 L8 0 Z" fill="#d391f1" stroke="#d391f1" stroke-width="25" stroke-linejoin="round" filter="url(#bl2)"/>
<path d="M3 -7.8 L262 -7.8 L262 -15 L276 0 L262 15 L262 7.8 L3 7.8 L11 0 Z" fill="#fff" stroke="#fff" stroke-width="4" stroke-linejoin="round" filter="url(#bl4)"/>
</g>
<path d="M166.7 790 L485 798.3 L486.7 789.3 L503.3 806.7 L485 823.3 L485 815 L166.7 807.3 L176.7 799 Z" fill="#fff" stroke="#000" stroke-width="1.8" stroke-linejoin="miter"/>
<path d="M171.7 824 L440 830 L440.7 821.7 L456 838.3 L439.3 855 L439.3 846.7 L171.7 840.7 L181.7 832.7 Z" fill="#fff" stroke="#000" stroke-width="1.8" stroke-linejoin="miter"/>
<path d="M175 854 L403.3 859.3 L404 851 L419.3 866 L403.3 881 L403.3 873.3 L175 869.3 L184 861.7 Z" fill="#fff" stroke="#000" stroke-width="1.8" stroke-linejoin="miter"/>
<path d="M1021.3 950.3 L1046.7 949.2 L1039.7 955.3 L1381 1261 L1368.4 1261.5 L1369 1274 L1028.3 968.3 L1023 974.7 Z" fill="#fff" stroke="#000" stroke-width="1.8" stroke-linejoin="miter"/>
<path d="M1099.7 967 L1124.2 965.3 L1117.5 971.3 L1404 1228 L1392.7 1229.5 L1393 1240 L1105.8 984.2 L1100.8 990.8 Z" fill="#fff" stroke="#000" stroke-width="1.8" stroke-linejoin="miter"/>
<path d="M1163.7 978.3 L1185 977 L1179.2 982.5 L1425 1202.7 L1413.5 1204 L1415 1213.3 L1169.7 992.5 L1164.7 998.7 Z" fill="#fff" stroke="#000" stroke-width="1.8" stroke-linejoin="miter"/>
<text x="569" y="156" font-size="74" textLength="690" lengthAdjust="spacingAndGlyphs">Global Electric Circuit</text>
<text x="87" y="252" font-size="24.5" textLength="244" lengthAdjust="spacingAndGlyphs" transform="rotate(31.3 87 252)" class="b">field-aligned currents</text>
<text x="357" y="60" font-size="24.5" textLength="242" lengthAdjust="spacingAndGlyphs" transform="rotate(62.3 357 60)" class="b">field-aligned currents</text>
<text x="411" y="342" font-size="24" textLength="286" lengthAdjust="spacingAndGlyphs" transform="rotate(44 411 342)">Magnetospheric coupling</text>
<text x="614" y="358" font-size="25.5" textLength="138" lengthAdjust="spacingAndGlyphs" transform="rotate(-13 614 358)">ionospheric</text>
<text x="637.3" y="388.8" font-size="25.5" textLength="108" lengthAdjust="spacingAndGlyphs" transform="rotate(-13 637.3 388.8)">potential</text>
<text x="686" y="416" font-size="25.5" textLength="24" lengthAdjust="spacingAndGlyphs" transform="rotate(-13 686 416)">Vi</text>
<text x="963" y="411.7" font-size="26" textLength="36.7" lengthAdjust="spacingAndGlyphs" text-anchor="middle">fair</text>
<text x="963" y="446.7" font-size="26" textLength="98.3" lengthAdjust="spacingAndGlyphs" text-anchor="middle">weather</text>
<text x="963" y="483.3" font-size="26" textLength="73.3" lengthAdjust="spacingAndGlyphs" text-anchor="middle">return</text>
<text x="963" y="518.3" font-size="26" textLength="99.3" lengthAdjust="spacingAndGlyphs" text-anchor="middle">currents</text>
<text x="1061.7" y="511.7" font-size="26" textLength="96.6" lengthAdjust="spacingAndGlyphs">thunder</text>
<text x="1061.7" y="546.7" font-size="26" textLength="65" lengthAdjust="spacingAndGlyphs">cloud</text>
<text x="1288" y="615" font-size="26" textLength="206" lengthAdjust="spacingAndGlyphs" text-anchor="middle" transform="rotate(-12.5 1288 615)">transient current</text>
<text x="1295.5" y="648" font-size="26" textLength="130" lengthAdjust="spacingAndGlyphs" text-anchor="middle" transform="rotate(-12.5 1295.5 648)">generators</text>
<text x="1518" y="645" font-size="26" textLength="110.6" lengthAdjust="spacingAndGlyphs" text-anchor="middle">magnetic</text>
<text x="1517.5" y="680" font-size="26" textLength="115" lengthAdjust="spacingAndGlyphs" text-anchor="middle">field lines</text>
<text x="1173.5" y="764" font-size="26" textLength="121.5" lengthAdjust="spacingAndGlyphs">electrified</text>
<text x="1173.5" y="799" font-size="26" textLength="65.5" lengthAdjust="spacingAndGlyphs">cloud</text>
<text x="20.7" y="726.7" font-size="33" textLength="79.3" lengthAdjust="spacingAndGlyphs">Solar</text>
<text x="20.7" y="775" font-size="33" textLength="150" lengthAdjust="spacingAndGlyphs">Energetic</text>
<text x="20.7" y="821.7" font-size="33" textLength="122.3" lengthAdjust="spacingAndGlyphs">Protons</text>
<text x="20.7" y="870.7" font-size="33" textLength="79.3" lengthAdjust="spacingAndGlyphs">(SEP)</text>
<text x="1416.7" y="1271.7" font-size="33" textLength="251.3" lengthAdjust="spacingAndGlyphs">Galactic Cosmic</text>
<text x="1399" y="1320.7" font-size="33" textLength="171.7" lengthAdjust="spacingAndGlyphs">Rays (GCR)</text>
<text x="965.7" y="1126.7" font-size="26" textLength="146.7" lengthAdjust="spacingAndGlyphs" text-anchor="middle">fair weather</text>
<text x="965.7" y="1161.7" font-size="26" textLength="73.3" lengthAdjust="spacingAndGlyphs" text-anchor="middle">return</text>
<text x="965.7" y="1198.3" font-size="26" textLength="99.3" lengthAdjust="spacingAndGlyphs" text-anchor="middle">currents</text>
<text x="168" y="1191.7" font-size="26" textLength="189" lengthAdjust="spacingAndGlyphs" text-anchor="middle" class="g">&gt;100 km Upper</text>
<text x="168" y="1226.7" font-size="26" textLength="148.3" lengthAdjust="spacingAndGlyphs" text-anchor="middle" class="g">atmosphere</text>
<text x="403.3" y="1233.3" font-size="26" textLength="88.4" lengthAdjust="spacingAndGlyphs" class="g">100 km</text>
<text x="555" y="1233.3" font-size="26" textLength="243.3" lengthAdjust="spacingAndGlyphs" class="g">Middle atmosphere</text>
<text x="495" y="1060" font-size="26" textLength="113.5" lengthAdjust="spacingAndGlyphs" class="g">10-15 km</text>
<text x="676" y="1060" font-size="26" textLength="231.3" lengthAdjust="spacingAndGlyphs" class="g">Lower atmosphere</text>
<text x="335" y="541" font-size="27" textLength="198" lengthAdjust="spacingAndGlyphs" text-anchor="middle" transform="rotate(-53 335 541)" class="g">auroral currents</text>
<text x="505.5" y="666.5" font-size="28.5" textLength="56" lengthAdjust="spacingAndGlyphs" transform="rotate(-59 505.5 666.5)" class="g">GIC</text>
</svg>
</body></html>
